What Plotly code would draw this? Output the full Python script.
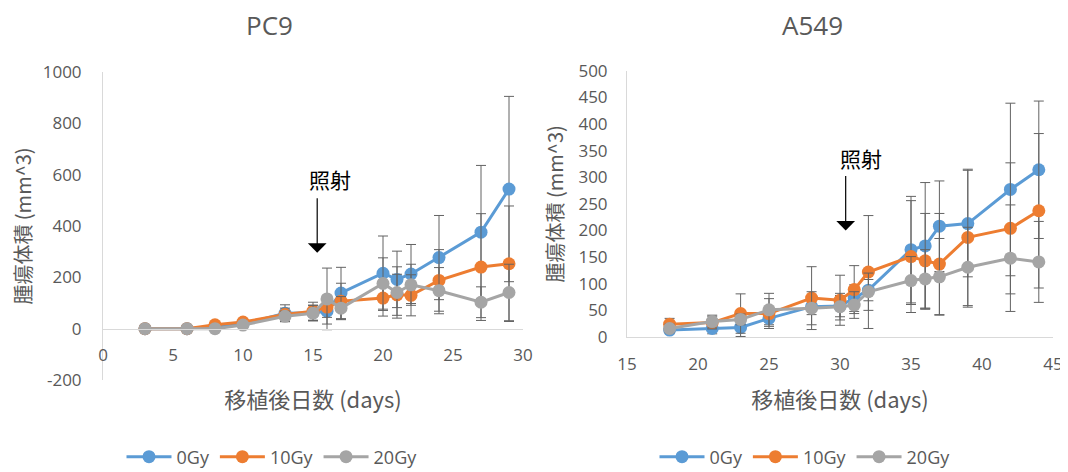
import plotly.graph_objects as go

# ---------------- data ----------------
series_names = ["0Gy", "10Gy", "20Gy"]
series_colors = ["#5B9BD5", "#ED7D31", "#A5A5A5"]

pc9_days = [3, 6, 8, 10, 13, 15, 16, 17, 20, 21, 22, 24, 27, 29]
pc9_0gy = [0, 0, 8, 18, 60, 62, 68, 139, 216, 192, 213, 277, 376, 544]
pc9_10gy = [0, 0, 15, 26, 55, 68, 84, 107, 119, 132, 130, 188, 240, 253]
pc9_20gy = [0, 0, 0, 14, 48, 60, 116, 80, 176, 141, 171, 148, 103, 141]
pc9_0gy_err = [3, 3, 5, 8, 33, 30, 50, 100, 145, 110, 115, 164, 260, 361]
pc9_10gy_err = [3, 3, 8, 10, 25, 35, 40, 70, 70, 80, 80, 120, 208, 225]
pc9_20gy_err = [3, 3, 5, 8, 20, 30, 120, 45, 100, 100, 80, 90, 60, 110]

a549_days = [18, 21, 23, 25, 28, 30, 31, 32, 35, 36, 37, 39, 42, 44]
a549_0gy = [13, 16, 18, 35, 57, 58, 73, 88, 164, 171, 208, 213, 277, 314]
a549_10gy = [24, 27, 44, 44, 73, 69, 89, 122, 151, 143, 137, 187, 204, 237]
a549_20gy = [16, 29, 33, 51, 54, 57, 60, 85, 106, 109, 113, 131, 148, 141]
a549_0gy_err = [5, 10, 17, 12, 15, 20, 25, 20, 100, 119, 85, 100, 162, 129]
a549_10gy_err = [11, 12, 37, 28, 59, 47, 45, 106, 105, 89, 95, 128, 123, 145]
a549_20gy_err = [8, 12, 10, 31, 31, 25, 25, 35, 45, 55, 72, 75, 100, 76]

pc9_ticks_x = [0, 5, 10, 15, 20, 25, 30]
pc9_ticks_y = [-200, 0, 200, 400, 600, 800, 1000]
pc9_ticktext_y = ["-200", "0", "200", "400", "600", "800", "1000"]
a549_ticks_x = [15, 20, 25, 30, 35, 40, 45]
a549_ticks_y = [0, 50, 100, 150, 200, 250, 300, 350, 400, 450, 500]

titles = ["PC9", "A549"]
x_title = "移植後日数 (days)"
y_title = "腫瘍体積 (mm^3)"
irradiation_label = "照射"
# arrow tip (x, y) and label (x, y) in data units
pc9_arrow = (15.3, 296)
pc9_label = (16.2, 584)
a549_arrow = (30.4, 200)
a549_label = (31.5, 337)

# ---------------- layout helpers ----------------
OFF = 8            # page body margin
W, H = 1068 - OFF, 472 - OFF


def px(x):
    return (x - OFF) / W


def py(y):
    return 1 - (y - OFF) / H


FONT = "Open Sans, Noto Sans CJK JP, sans-serif"
CJK = "Noto Sans CJK JP, Open Sans, sans-serif"
TXT = "#595959"
AXL = "#D9D9D9"
ERR = "#636363"

fig = go.Figure()

pc9_vals = [pc9_0gy, pc9_10gy, pc9_20gy]
pc9_errs = [pc9_0gy_err, pc9_10gy_err, pc9_20gy_err]
a549_vals = [a549_0gy, a549_10gy, a549_20gy]
a549_errs = [a549_0gy_err, a549_10gy_err, a549_20gy_err]

for name, col, v, e in zip(series_names, series_colors, pc9_vals, pc9_errs):
    fig.add_trace(go.Scatter(
        x=pc9_days, y=v, name=name, mode="lines+markers",
        line=dict(color=col, width=3), marker=dict(color=col, size=13),
        error_y=dict(type="data", array=e, color=ERR, thickness=1, width=5),
        xaxis="x", yaxis="y", legend="legend"))

for name, col, v, e in zip(series_names, series_colors, a549_vals, a549_errs):
    fig.add_trace(go.Scatter(
        x=a549_days, y=v, name=name, mode="lines+markers",
        line=dict(color=col, width=3), marker=dict(color=col, size=13),
        error_y=dict(type="data", array=e, color=ERR, thickness=1, width=5),
        xaxis="x2", yaxis="y2", legend="legend2"))

tickfont = dict(family=FONT, size=17, color=TXT)
xtitlefont = dict(family=CJK, size=22, color=TXT)
ytitlefont = dict(family=CJK, size=20, color=TXT)
legfont = dict(family=FONT, size=18, color=TXT)

fig.update_layout(
    template="none",
    width=W, height=H, autosize=False,
    margin=dict(l=0, r=0, t=0, b=0, pad=0, autoexpand=False),
    paper_bgcolor="white", plot_bgcolor="white",
    font=dict(family=FONT, color=TXT),
    xaxis=dict(domain=[px(103), px(523)], range=[0, 30], tickvals=pc9_ticks_x,
               anchor="free", position=py(329), showline=True, linecolor=AXL,
               linewidth=1, showgrid=False, zeroline=False, ticks="", automargin=False,
               tickfont=tickfont, ticklabelstandoff=11,
               title=dict(text=x_title, font=xtitlefont, standoff=27)),
    yaxis=dict(domain=[py(380), py(72)], range=[-200, 1000], tickvals=pc9_ticks_y,
               ticktext=pc9_ticktext_y, automargin=False,
               anchor="x", showline=True, linecolor=AXL, linewidth=1,
               showgrid=False, zeroline=False, ticks="", tickfont=tickfont,
               ticklabelstandoff=17,
               title=dict(text=y_title, font=ytitlefont, standoff=21)),
    xaxis2=dict(domain=[px(627), px(1053)], range=[15, 45], tickvals=a549_ticks_x,
                anchor="y2", showline=True, linecolor=AXL, linewidth=1, automargin=False,
                showgrid=False, zeroline=False, ticks="", tickfont=tickfont,
                ticklabelstandoff=12,
                title=dict(text=x_title, font=xtitlefont, standoff=18)),
    yaxis2=dict(domain=[py(337), py(70.7)], range=[0, 500], tickvals=a549_ticks_y,
                anchor="x2", showline=True, linecolor=AXL, linewidth=1, automargin=False,
                showgrid=False, zeroline=False, ticks="", tickfont=tickfont,
                ticklabelstandoff=15,
                title=dict(text=y_title, font=ytitlefont, standoff=9)),
    legend=dict(orientation="h", x=px(272), xanchor="center", itemwidth=45,
                y=py(457), yanchor="middle", font=legfont, bgcolor="rgba(0,0,0,0)"),
    legend2=dict(orientation="h", x=px(805), xanchor="center", itemwidth=45,
                 y=py(457), yanchor="middle", font=legfont, bgcolor="rgba(0,0,0,0)"),
    showlegend=True,
)

# subplot titles
fig.add_annotation(text=titles[0], x=px(269), y=py(25), xref="paper", yref="paper",
                   xanchor="center", yanchor="middle",
                   showarrow=False, font=dict(family=FONT, size=26, color=TXT))
fig.add_annotation(text=titles[1], x=px(812), y=py(25), xref="paper", yref="paper",
                   xanchor="center", yanchor="middle",
                   showarrow=False, font=dict(family=FONT, size=26, color=TXT))

# irradiation markers
for (ax_x, ax_y), (lx, ly), xr, yr in [
    (pc9_arrow, pc9_label, "x", "y"),
    (a549_arrow, a549_label, "x2", "y2"),
]:
    fig.add_annotation(x=ax_x, y=ax_y, xref=xr, yref=yr, text="", showarrow=True,
                       ax=0, ay=-56, arrowhead=1, arrowsize=2.6, arrowwidth=1.2,
                       arrowcolor="black", standoff=0)
    fig.add_annotation(x=lx, y=ly, xref=xr, yref=yr, text=irradiation_label,
                       xanchor="center", yanchor="middle",
                       showarrow=False, font=dict(family=CJK, size=21, color="black"))

fig.write_html("out.html")
